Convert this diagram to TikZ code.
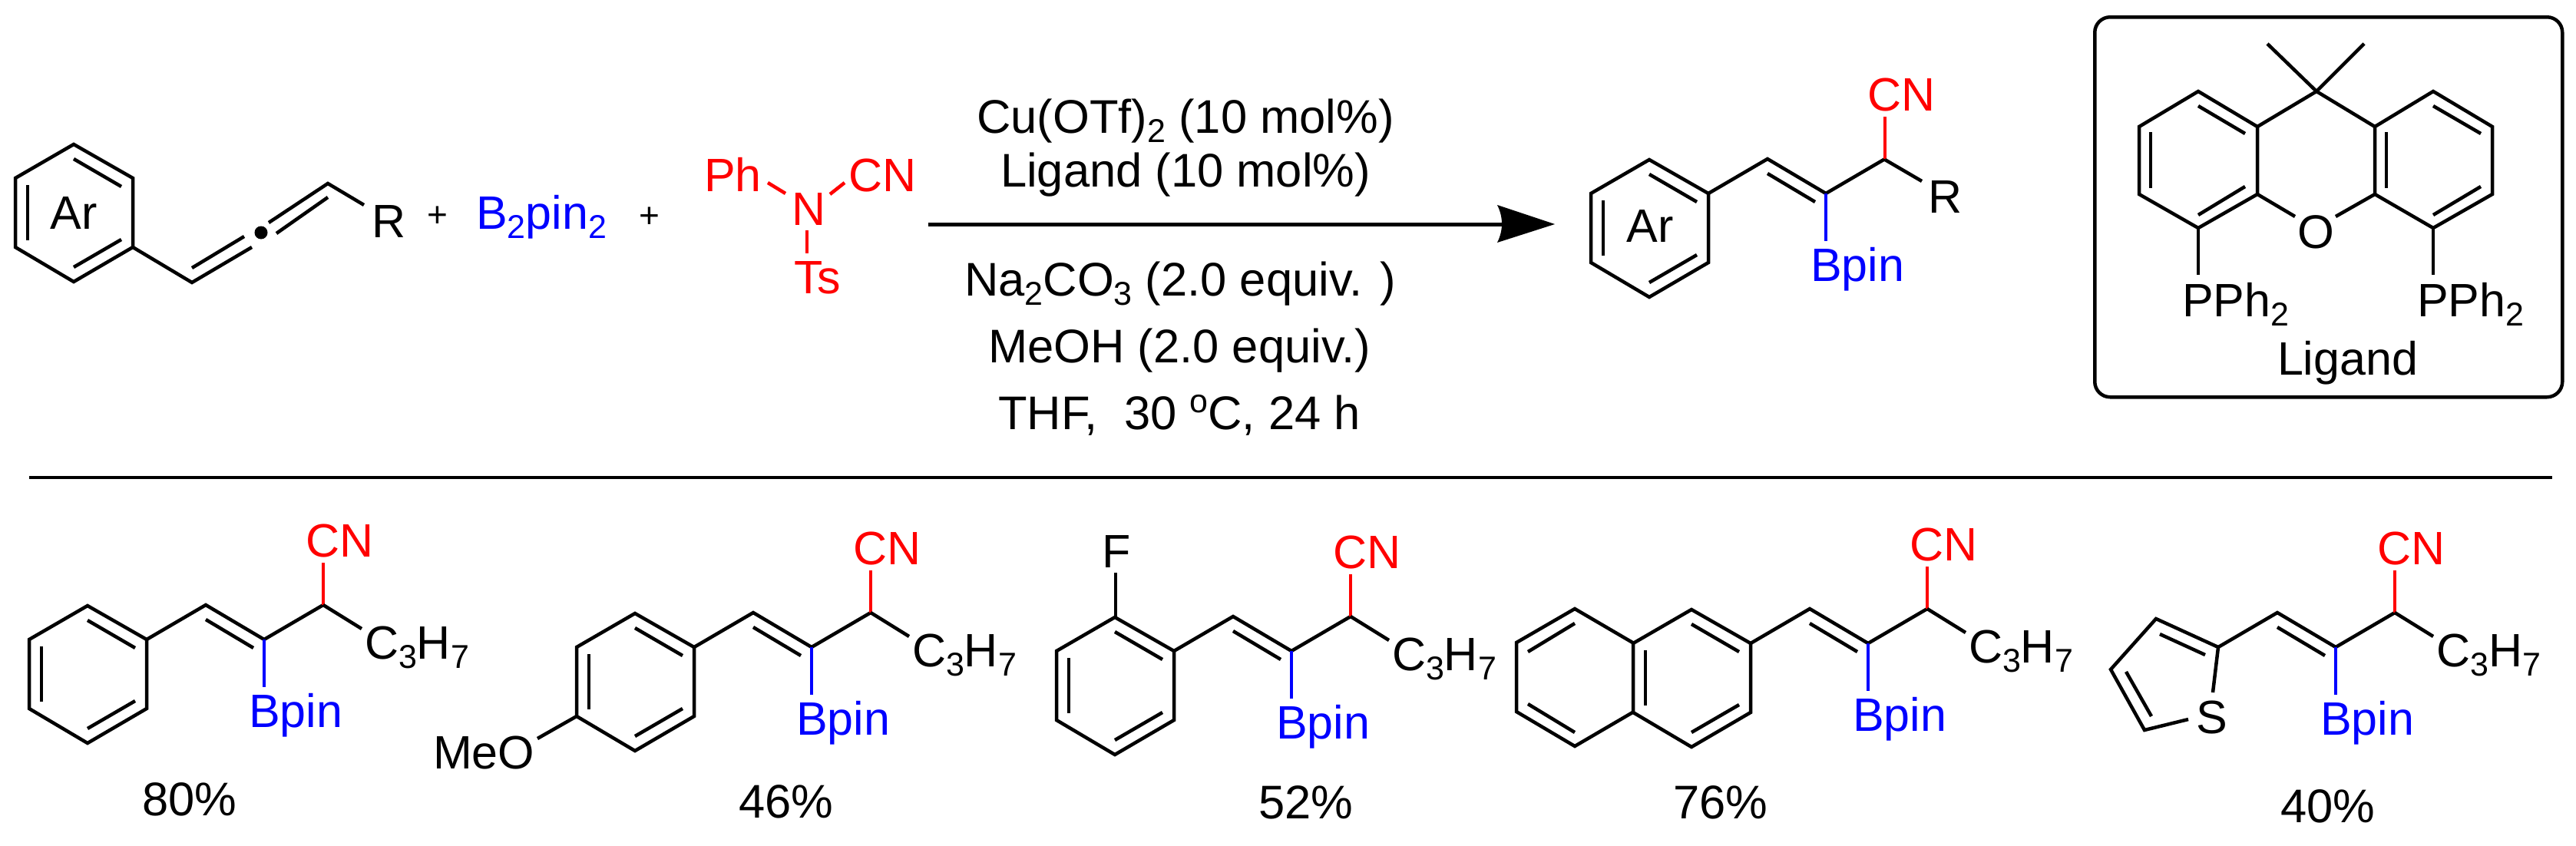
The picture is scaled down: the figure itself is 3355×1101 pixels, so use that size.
\documentclass[tikz,border=0pt]{standalone}
\usepackage{fontspec}
\setmainfont{Liberation Sans}
\definecolor{cnred}{RGB}{255,0,0}
\definecolor{bblue}{RGB}{0,0,255}
\newcommand\lowd[1]{\raisebox{-12pt}{\fontsize{43}{43}\selectfont #1}}
\newcommand\uppd[1]{\raisebox{22pt}{\fontsize{43}{43}\selectfont #1}}
\tikzset{
  bond/.style={draw=black,line width=4.5pt,line join=miter,line cap=butt},
  redbond/.style={draw=cnred,line width=4.5pt},
  bluebond/.style={draw=bblue,line width=4pt},
  lbl/.style={anchor=base west,inner sep=0pt,outer sep=0pt,font=\fontsize{61}{61}\selectfont},
  mid/.style={anchor=base,inner sep=0pt,outer sep=0pt,font=\fontsize{61.5}{61.5}\selectfont},
  redtxt/.style={lbl,text=cnred},
  bluetxt/.style={lbl,text=bblue},
  plusmark/.style={anchor=center,inner sep=0pt,outer sep=0pt,font=\fontsize{46}{46}\selectfont}
}
% benzene ring, given by its upper right atom
\newcommand\benz[2]{%
  \begin{scope}[shift={(#1,#2)}]
    \coordinate (r1) at (0,0);
    \coordinate (r2) at (-77,-44);
    \coordinate (r3) at (-153,0);
    \coordinate (r4) at (-153,90);
    \coordinate (r5) at (-77,135);
    \coordinate (r6) at (0,90);
    \coordinate (i1) at (-77,-25);
    \coordinate (i2) at (-15,11);
    \coordinate (i3) at (-137,9);
    \coordinate (i4) at (-137,81);
    \coordinate (i5) at (-77,116);
    \coordinate (i6) at (-15,80);
    \draw[bond] (r1) -- (r2) -- (r3) -- (r4) -- (r5) -- (r6) -- cycle;
    \draw[bond] (i1) -- (i2);
    \draw[bond] (i3) -- (i4);
    \draw[bond] (i5) -- (i6);
  \end{scope}}
% vinyl chain with the CN and Bpin groups, from the ring atom
\newcommand\chain[2]{%
  \begin{scope}[shift={(#1,#2)}]
    \coordinate (c0) at (0,0);
    \coordinate (c1) at (77,-45);
    \coordinate (c2) at (153,0);
    \coordinate (c3) at (230,-45);
    \coordinate (d1) at (77,-26);
    \coordinate (d2) at (139,11);
    \coordinate (cnend) at (230,-100);
    \coordinate (bend) at (153,62);
    \draw[bond] (c0) -- (c1) -- (c2) -- (c3);
    \draw[bond] (d1) -- (d2);
    \draw[redbond] (c3) -- (cnend);
    \draw[bluebond] (c2) -- (bend);
    \node[redtxt] (cn) at (207,-108) {CN};
    \node[bluetxt] (bp) at (133,114) {Bpin};
  \end{scope}}
% the propyl group on the same chain
\newcommand\propyl[2]{%
  \begin{scope}[shift={(#1,#2)}]
    \coordinate (c3) at (230,-45);
    \coordinate (pe) at (280,-14);
    \draw[bond] (c3) -- (pe);
    \node[lbl] (pr) at (284,25) {C\lowd{3}H\lowd{7}};
  \end{scope}}
\begin{document}
\begin{tikzpicture}[x=1pt,y=-1pt]
\useasboundingbox (0,0) rectangle (3355,1101);

% ---------- reactant allene
\begin{scope}[name prefix=al-]
  \benz{173}{232}
  \node[lbl,anchor=base] (ar) at (96,298) {Ar};
  \coordinate (a1) at (173,322);
  \coordinate (a2) at (250,368);
  \coordinate (a3) at (328,322);
  \coordinate (a4) at (250,349);
  \coordinate (a5) at (318,308);
  \coordinate (a6) at (350,290);
  \coordinate (a7) at (427,239);
  \coordinate (a8) at (360,304);
  \coordinate (a9) at (427,257);
  \coordinate (a10) at (474,267);
  \coordinate (dot) at (340,303);
  \draw[bond] (a1) -- (a2) -- (a3);
  \draw[bond] (a4) -- (a5);
  \draw[bond] (a6) -- (a7) -- (a10);
  \draw[bond] (a8) -- (a9);
  \fill (dot) circle[radius=8.5];
  \node[lbl] (r) at (484,309) {R};
\end{scope}
\node[plusmark] (p1) at (570,282) {+};
\node[lbl,text=bblue] (b2) at (620,298) {B\lowd{2}pin\lowd{2}};
\node[plusmark] (p2) at (846,283) {+};

% ---------- cyanamide
\node[redtxt] (ph) at (917,249) {Ph};
\node[redtxt] (cnr) at (1105,249) {CN};
\node[redtxt] (nr) at (1031,293) {N};
\node[redtxt] (ts) at (1034,382) {Ts};
\coordinate (n1) at (1023,252);
\coordinate (ph1) at (1000,238);
\coordinate (n2) at (1081,253);
\coordinate (cn1) at (1100,238);
\coordinate (n3) at (1051,300);
\coordinate (ts1) at (1051,330);
\draw[redbond] (ph1) -- (n1);
\draw[redbond] (cn1) -- (n2);
\draw[redbond] (n3) -- (ts1);

% ---------- reagents and arrow
\node[mid] (l1) at (1544,173) {Cu(OTf)\lowd{2} (10 mol\%)};
\node[mid] (l2) at (1544,243) {Ligand (10 mol\%)};
\node[mid] (l3) at (1537,385) {Na\lowd{2}CO\lowd{3} (2.0 equiv. )};
\node[mid] (l4) at (1536,472) {MeOH (2.0 equiv.)};
\node[mid] (l5) at (1536,559) {THF,\ \ 30 \uppd{o}C, 24 h};
\coordinate (ars) at (1209,292);
\coordinate (are) at (1960,292);
\coordinate (tip) at (2025,292);
\coordinate (b1) at (1950,267);
\coordinate (b2c) at (1950,316);
\draw[line width=5pt] (ars) -- (are);
\fill (tip) -- (b1) .. controls (1958,283) and (1958,300) .. (b2c) -- cycle;

% ---------- product
\begin{scope}[name prefix=pr-]
  \benz{2225}{252}
  \node[lbl,anchor=base] (arp) at (2149,315) {Ar};
  \chain{2225}{252}
  \coordinate (c3r) at (2455,208);
  \coordinate (re) at (2503,236);
  \draw[bond] (c3r) -- (re);
  \node[lbl] (rp) at (2511,277) {R};
\end{scope}

% ---------- ligand
\node[draw,line width=4.5pt,rounded corners=20pt,minimum width=609pt,minimum height=495pt,anchor=north west,inner sep=0pt] (box) at (2726,20) {};
\begin{scope}[name prefix=li-]
  \coordinate (t) at (2863,119);
  \coordinate (ur) at (2940,165);
  \coordinate (lr) at (2940,253);
  \coordinate (bo) at (2863,297);
  \coordinate (ll) at (2786,253);
  \coordinate (ul) at (2786,165);
  \coordinate (q) at (3017,119);
  \coordinate (t2) at (3169,119);
  \coordinate (ur2) at (3246,165);
  \coordinate (lr2) at (3246,253);
  \coordinate (bo2) at (3169,297);
  \coordinate (ll2) at (3093,253);
  \coordinate (ul2) at (3093,165);
  \coordinate (m1) at (2953,57);
  \coordinate (m2) at (3079,57);
  \coordinate (o1) at (2989,282);
  \coordinate (o2) at (3042,282);
  \coordinate (p1e) at (2863,358);
  \coordinate (p2e) at (3169,358);
  \draw[bond] (t) -- (ur) -- (lr) -- (bo) -- (ll) -- (ul) -- cycle;
  \draw[bond] (t2) -- (ur2) -- (lr2) -- (bo2) -- (ll2) -- (ul2) -- cycle;
  \draw[bond] (ur) -- (q) -- (ul2);
  \draw[bond] (m1) -- (q) -- (m2);
  \draw[bond] (lr) -- (o1);
  \draw[bond] (ll2) -- (o2);
  \draw[bond] (bo) -- (p1e);
  \draw[bond] (bo2) -- (p2e);
  \coordinate (i1) at (2863,138); \coordinate (i2) at (2924,174);
  \coordinate (i3) at (2801,172); \coordinate (i4) at (2801,245);
  \coordinate (i5) at (2863,280); \coordinate (i6) at (2924,243);
  \coordinate (j1) at (3169,138); \coordinate (j2) at (3231,174);
  \coordinate (j3) at (3108,172); \coordinate (j4) at (3108,245);
  \coordinate (j5) at (3169,280); \coordinate (j6) at (3231,243);
  \draw[bond] (i1) -- (i2);
  \draw[bond] (i3) -- (i4);
  \draw[bond] (i5) -- (i6);
  \draw[bond] (j1) -- (j2);
  \draw[bond] (j3) -- (j4);
  \draw[bond] (j5) -- (j6);
  \node[mid] (ox) at (3016,323) {O};
  \node[lbl] (pp1) at (2842,412) {PPh\lowd{2}};
  \node[lbl] (pp2) at (3148,412) {PPh\lowd{2}};
  \node[lbl] (lig) at (2966,488) {Ligand};
\end{scope}

% ---------- separating rule
\coordinate (ruleL) at (38,622);
\coordinate (ruleR) at (3324,622);
\draw[line width=4pt] (ruleL) -- (ruleR);

% ---------- scope: phenyl
\begin{scope}[name prefix=m1-]
  \benz{191}{833}
  \chain{191}{833}
  \propyl{191}{833}
  \node[mid] (y1) at (247,1062) {80\%};
\end{scope}

% ---------- scope: 4-methoxyphenyl
\begin{scope}[name prefix=m2-]
  \benz{904}{843}
  \chain{904}{843}
  \propyl{904}{843}
  \coordinate (ome) at (751,933);
  \coordinate (ome2) at (700,962);
  \draw[bond] (ome) -- (ome2);
  \node[lbl] (meo) at (564,1001) {MeO};
  \node[mid] (y2) at (1024,1065) {46\%};
\end{scope}

% ---------- scope: 2-fluorophenyl
\begin{scope}[name prefix=m3-]
  \benz{1529}{848}
  \chain{1529}{848}
  \propyl{1529}{848}
  \coordinate (fa) at (1453,803);
  \coordinate (fb) at (1453,746);
  \draw[bond] (fa) -- (fb);
  \node[lbl] (f) at (1435,739) {F};
  \node[mid] (y3) at (1701,1066) {52\%};
\end{scope}

% ---------- scope: 2-naphthyl
\begin{scope}[name prefix=m4-]
  \benz{2280}{838}
  \chain{2280}{838}
  \propyl{2280}{838}
  \coordinate (f1) at (2128,838);
  \coordinate (f2) at (2128,927);
  \coordinate (n1) at (2051,793);
  \coordinate (n2) at (1975,837);
  \coordinate (n3) at (1975,927);
  \coordinate (n4) at (2051,972);
  \coordinate (k1) at (2051,812);
  \coordinate (k2) at (1990,849);
  \coordinate (k3) at (2051,954);
  \coordinate (k4) at (1990,917);
  \draw[bond] (f1) -- (n1) -- (n2) -- (n3) -- (n4) -- (f2);
  \draw[bond] (k1) -- (k2);
  \draw[bond] (k3) -- (k4);
  \node[mid] (y4) at (2241,1066) {76\%};
\end{scope}

% ---------- scope: 2-thienyl
\begin{scope}[name prefix=m5-]
  \chain{2889}{843}
  \propyl{2889}{843}
  \coordinate (s0) at (2889,843);
  \coordinate (s1) at (2808,806);
  \coordinate (s2) at (2749,872);
  \coordinate (s3) at (2793,951);
  \coordinate (s4) at (2850,937);
  \coordinate (s5) at (2882,902);
  \coordinate (e1) at (2813,826);
  \coordinate (e2) at (2872,853);
  \coordinate (e3) at (2769,875);
  \coordinate (e4) at (2802,933);
  \draw[bond] (s5) -- (s0) -- (s1) -- (s2) -- (s3) -- (s4);
  \draw[bond] (e1) -- (e2);
  \draw[bond] (e3) -- (e4);
  \node[lbl] (sx) at (2860,955) {S};
  \node[mid] (y5) at (3032,1071) {40\%};
\end{scope}
\end{tikzpicture}
\end{document}
